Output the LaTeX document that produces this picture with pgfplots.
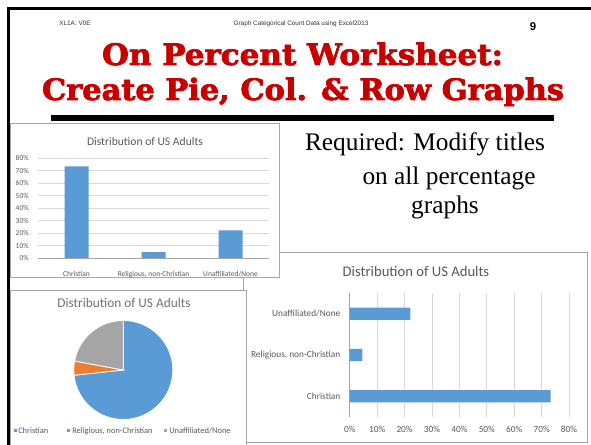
\documentclass[border=0pt]{standalone}
\usepackage{pgfplots}
\pgfplotsset{compat=1.18}
\usepackage{fontspec}
\setmainfont{Liberation Serif}
\newfontfamily\calibri{Carlito}
\newfontfamily\arial{Liberation Sans}
\newfontfamily\slab[FakeBold=2.5]{DejaVu Serif}

\definecolor{xlblue}{HTML}{5B9BD5}
\definecolor{xlorange}{HTML}{ED7D31}
\definecolor{xlgray}{HTML}{A5A5A5}
\definecolor{xltext}{HTML}{595959}
\definecolor{xlgrid}{HTML}{D9D9D9}
\definecolor{xlbox}{HTML}{A6A6A6}
\definecolor{titlered}{RGB}{200,0,0}

\newcommand{\fs}[1]{\fontsize{#1}{#1}\selectfont}

\begin{document}
\begin{tikzpicture}[x=0.75pt,y=0.75pt]
\path[use as bounding box] (0,0) rectangle (591,445);

% slide frame
\draw[line width=2.25pt,line cap=rect] (8,-5) -- (8,436.5) -- (595,436.5);

% header
\node[font=\arial\fs{4.8},text=black!80] at (75,422) {XL1A: V0E};
\node[font=\arial\fs{4.8},text=black!80] at (301,421) {Graph Categorical Count Data using Excel2013};
\node[font=\arial\bfseries\fs{8.5}] at (533,418) {9};

% title
\node[anchor=base,inner sep=0pt,text=titlered,font=\slab\bfseries\fs{22}] at (302.5,380)
  {\resizebox{300.75pt}{16.8pt}{On Percent Worksheet:}};
\node[anchor=base,inner sep=0pt,text=titlered,font=\slab\bfseries\fs{22}] at (303,345)
  {\resizebox{391.5pt}{16.8pt}{Create Pie, Col. \& Row Graphs}};
\fill (51,324) rectangle (554,329.5);

% note
\node[anchor=base,inner sep=0pt,font=\fs{19}] at (425,294) {Required: Modify titles};
\node[anchor=base,inner sep=0pt,font=\fs{19}] at (449,260) {on all percentage};
\node[anchor=base,inner sep=0pt,font=\fs{19}] at (445,231) {graphs};

% ---------- row (horizontal bar) chart ----------
\filldraw[fill=white,draw=xlbox,line width=0.75pt] (243,2) rectangle (587,192);
\node[font=\calibri\fs{11},text=xltext] at (416,174) {Distribution of US Adults};
\begin{axis}[
    at={(262.3pt,21pt)}, anchor=south west,
    scale only axis, width=164.5pt, height=93pt,
    xbar, bar width=9.2pt,
    xmin=0, xmax=80, ymin=-0.5, ymax=2.5,
    xtick={0,10,...,80},
    xticklabels={0\%,10\%,20\%,30\%,40\%,50\%,60\%,70\%,80\%},
    ytick={0,1,2},
    yticklabels={Christian,{Religious, non-Christian},Unaffiliated/None},
    xmajorgrids, grid style={xlgrid,line width=0.6pt},
    extra x ticks={0}, extra x tick labels={},
    extra x tick style={grid style={xlbox,line width=0.6pt}},
    axis line style={draw=none}, tick style={draw=none},
    ticklabel style={font=\calibri\fs{7},text=xltext},
    xticklabel style={yshift=-3pt},
    yticklabel style={xshift=0.75pt},
]
\addplot[fill=xlblue,draw=none] coordinates {(73.3,0) (4.6,1) (22.1,2)};
\end{axis}

% ---------- pie chart ----------
\filldraw[fill=white,draw=xlbox,line width=0.75pt] (10,-5) rectangle (246,154);
\node[font=\calibri\fs{10},text=xltext!85] at (124,142) {Distribution of US Adults};
\begin{scope}[shift={(123.3,75)}]
  % values: Christian 73.3, Religious non-Christian 4.6, Unaffiliated 22.1
  \def\r{49.5}
  \filldraw[fill=xlblue,draw=white,line width=0.6pt]
    (0,0) -- (90:\r) arc[start angle=90,end angle={90-73.3*3.6},radius=\r] -- cycle;
  \filldraw[fill=xlorange,draw=white,line width=0.6pt]
    (0,0) -- ({90-73.3*3.6}:\r) arc[start angle={90-73.3*3.6},end angle={90-77.9*3.6},radius=\r] -- cycle;
  \filldraw[fill=xlgray,draw=white,line width=0.6pt]
    (0,0) -- ({90-77.9*3.6}:\r) arc[start angle={90-77.9*3.6},end angle=-270,radius=\r] -- cycle;
\end{scope}
\fill[xlblue] (13.5,12.5) rectangle (16.5,15.5);
\node[anchor=west,inner sep=0pt,font=\calibri\fs{6.3},text=xltext] at (18,14) {Christian};
\fill[xlorange] (66.5,12.5) rectangle (69.5,15.5);
\node[anchor=west,inner sep=0pt,font=\calibri\fs{6.3},text=xltext] at (72,14) {Religious, non-Christian};
\fill[xlgray] (163.5,12.5) rectangle (166.5,15.5);
\node[anchor=west,inner sep=0pt,font=\calibri\fs{6.3},text=xltext] at (169,14) {Unaffiliated/None};

% ---------- column chart ----------
\filldraw[fill=white,draw=xlbox,line width=0.75pt] (10,167) rectangle (279,321);
\node[font=\calibri\fs{8.7},text=xltext] at (145,303.3) {Distribution of US Adults};
\begin{axis}[
    at={(28.5pt,140.25pt)}, anchor=south west,
    scale only axis, width=173.25pt, height=75pt,
    ybar, bar width=18pt,
    xmin=-0.5, xmax=2.5, ymin=0, ymax=80,
    ytick={0,10,...,80},
    yticklabels={0\%,10\%,20\%,30\%,40\%,50\%,60\%,70\%,80\%},
    xtick={0,1,2},
    xticklabels={Christian,{Religious, non-Christian},Unaffiliated/None},
    ymajorgrids, grid style={xlgrid,line width=0.6pt},
    extra y ticks={0}, extra y tick labels={},
    extra y tick style={grid style={xlbox,line width=0.6pt}},
    axis line style={draw=none}, tick style={draw=none},
    ticklabel style={font=\calibri\fs{5.6},text=xltext},
    xticklabel style={yshift=-2.5pt},
    yticklabel style={xshift=-3.5pt},
]
\addplot[fill=xlblue,draw=none] coordinates {(0,73.3) (1,4.6) (2,22.1)};
\end{axis}
\end{tikzpicture}
\end{document}
